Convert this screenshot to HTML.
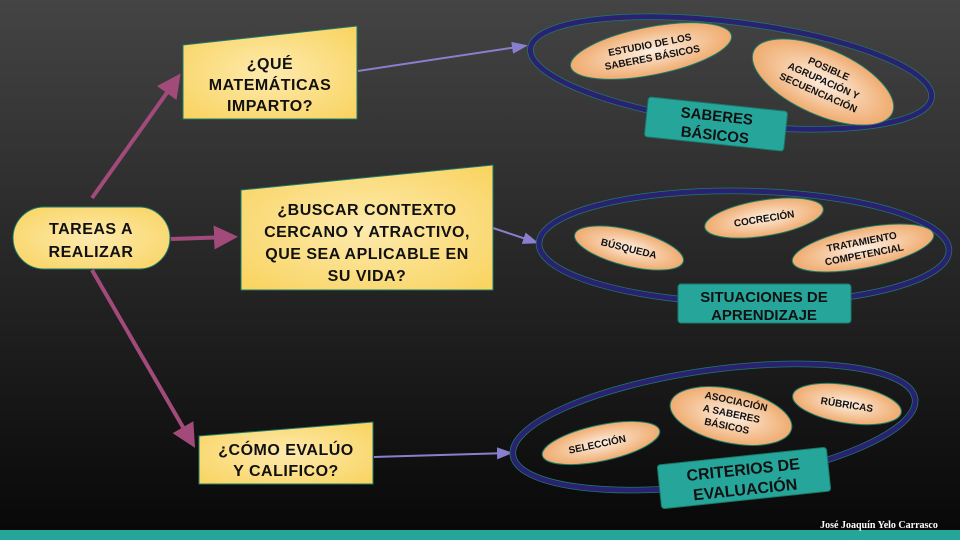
<!DOCTYPE html>
<html><head><meta charset="utf-8"><style>
html,body{margin:0;padding:0;width:960px;height:540px;overflow:hidden;}
text{font-family:"Liberation Sans",sans-serif;font-weight:bold;fill:#111;text-anchor:middle;}
</style></head><body>
<svg width="960" height="540" viewBox="0 0 960 540" xmlns="http://www.w3.org/2000/svg">
<defs>
<linearGradient id="bg" x1="0" y1="0" x2="0" y2="1"><stop offset="0" stop-color="#444"/><stop offset="1" stop-color="#070707"/></linearGradient>
<radialGradient id="yl" cx="0.5" cy="0.5" r="0.7"><stop offset="0" stop-color="#fdeaae"/><stop offset="1" stop-color="#f9d35e"/></radialGradient>
<radialGradient id="or" cx="0.5" cy="0.5" r="0.55"><stop offset="0" stop-color="#fdeee0"/><stop offset="1" stop-color="#eea564"/></radialGradient>
<marker id="am" markerWidth="6" markerHeight="6" refX="4" refY="3" orient="auto" markerUnits="strokeWidth"><path d="M0,0 L6,3 L0,6 z" fill="#a24b7a"/></marker>
<marker id="ap" markerWidth="8" markerHeight="8" refX="6" refY="4" orient="auto" markerUnits="strokeWidth"><path d="M0,1 L8,4 L0,7 z" fill="#8a7fcf"/></marker>
</defs>
<rect width="960" height="540" fill="url(#bg)"/>
<rect x="0" y="530" width="960" height="10" fill="#26a69a"/>
<text x="879" y="528" style="font-family:'Liberation Serif',serif;fill:#fff;font-size:10px">José Joaquín Yelo Carrasco</text>

<g stroke="#a24b7a" stroke-width="4" fill="none">
<line x1="92" y1="198" x2="176" y2="80" marker-end="url(#am)"/>
<line x1="171" y1="239" x2="230" y2="237" marker-end="url(#am)"/>
<line x1="92" y1="270" x2="191" y2="441" marker-end="url(#am)"/>
</g>
<g stroke="#8a7fcf" stroke-width="2" fill="none">
<line x1="358" y1="71" x2="524" y2="46" marker-end="url(#ap)"/>
<line x1="493" y1="228" x2="535" y2="242" marker-end="url(#ap)"/>
<line x1="374" y1="457" x2="509" y2="453" marker-end="url(#ap)"/>
</g>

<g style="letter-spacing:0.5px">
<rect x="13" y="207" width="157" height="62" rx="31" fill="url(#yl)" stroke="#1a7a6a" stroke-width="1"/>
<text x="91" y="234" font-size="16">TAREAS A</text>
<text x="91" y="257" font-size="16">REALIZAR</text>

<polygon points="183,45 357,26 357,119 183,119" fill="url(#yl)" stroke="#1a7a6a" stroke-width="1"/>
<text x="270" y="69" font-size="16">¿QUÉ</text>
<text x="270" y="90" font-size="16">MATEMÁTICAS</text>
<text x="270" y="111" font-size="16">IMPARTO?</text>

<polygon points="241,190 493,165 493,290 241,290" fill="url(#yl)" stroke="#1a7a6a" stroke-width="1"/>
<text x="367" y="215" font-size="16">¿BUSCAR CONTEXTO</text>
<text x="367" y="237" font-size="16">CERCANO Y ATRACTIVO,</text>
<text x="367" y="259" font-size="16">QUE SEA APLICABLE EN</text>
<text x="367" y="281" font-size="16">SU VIDA?</text>

<polygon points="199,436 373,422 373,484 199,484" fill="url(#yl)" stroke="#1a7a6a" stroke-width="1"/>
<text x="286" y="455" font-size="16">¿CÓMO EVALÚO</text>
<text x="286" y="476" font-size="16">Y CALIFICO?</text>
</g>

<g fill="none">
<ellipse cx="731" cy="73" rx="202" ry="51" transform="rotate(7 731 73)" stroke="#1e7a6e" stroke-width="6.5"/>
<ellipse cx="731" cy="73" rx="202" ry="51" transform="rotate(7 731 73)" stroke="#2a2270" stroke-width="5"/>
<ellipse cx="744" cy="247" rx="205" ry="56" transform="rotate(1 744 247)" stroke="#1e7a6e" stroke-width="6.5"/>
<ellipse cx="744" cy="247" rx="205" ry="56" transform="rotate(1 744 247)" stroke="#2a2270" stroke-width="5"/>
<ellipse cx="714" cy="427" rx="203" ry="57" transform="rotate(-8 714 427)" stroke="#1e7a6e" stroke-width="6.5"/>
<ellipse cx="714" cy="427" rx="203" ry="57" transform="rotate(-8 714 427)" stroke="#2a2270" stroke-width="5"/>
</g>

<g transform="rotate(-11 651 51)"><ellipse cx="651" cy="51" rx="82" ry="24" fill="url(#or)" stroke="#1a7a6a"/>
<text x="651" y="48" font-size="10">ESTUDIO DE LOS</text><text x="651" y="61" font-size="10">SABERES BÁSICOS</text></g>
<g transform="rotate(24 823 82)"><ellipse cx="823" cy="82" rx="76" ry="33" fill="url(#or)" stroke="#1a7a6a"/>
<text x="823" y="71" font-size="10">POSIBLE</text><text x="823" y="84" font-size="10">AGRUPACIÓN Y</text><text x="823" y="97" font-size="10">SECUENCIACIÓN</text></g>
<g transform="rotate(6 716 124)"><rect x="646" y="104" width="140" height="40" rx="3" fill="#26a69a" stroke="#1a7a6a"/>
<text x="716" y="121" font-size="15">SABERES</text><text x="716" y="140" font-size="15">BÁSICOS</text></g>

<g transform="rotate(14 629 248)"><ellipse cx="629" cy="248" rx="56" ry="18" fill="url(#or)" stroke="#1a7a6a"/>
<text x="629" y="252" font-size="10">BÚSQUEDA</text></g>
<g transform="rotate(-9 764 218)"><ellipse cx="764" cy="218" rx="60" ry="18" fill="url(#or)" stroke="#1a7a6a"/>
<text x="764" y="222" font-size="10">COCRECIÓN</text></g>
<g transform="rotate(-11 863 248)"><ellipse cx="863" cy="248" rx="72" ry="20" fill="url(#or)" stroke="#1a7a6a"/>
<text x="863" y="245" font-size="10">TRATAMIENTO</text><text x="863" y="258" font-size="10">COMPETENCIAL</text></g>
<rect x="678" y="284" width="173" height="39" rx="3" fill="#26a69a" stroke="#1a7a6a"/>
<text x="764" y="302" font-size="15">SITUACIONES DE</text><text x="764" y="320" font-size="15">APRENDIZAJE</text>

<g transform="rotate(-12 601 443)"><ellipse cx="601" cy="443" rx="60" ry="18" fill="url(#or)" stroke="#1a7a6a"/>
<text x="597" y="447" font-size="10">SELECCIÓN</text></g>
<g transform="rotate(12 731 416)"><ellipse cx="731" cy="416" rx="62" ry="27" fill="url(#or)" stroke="#1a7a6a"/>
<text x="733" y="404" font-size="10">ASOCIACIÓN</text><text x="731" y="417" font-size="10">A SABERES</text><text x="729" y="430" font-size="10">BÁSICOS</text></g>
<g transform="rotate(9 847 404)"><ellipse cx="847" cy="404" rx="55" ry="19" fill="url(#or)" stroke="#1a7a6a"/>
<text x="847" y="408" font-size="10">RÚBRICAS</text></g>
<g transform="rotate(-6 744 478)"><rect x="659" y="456" width="170" height="44" rx="3" fill="#26a69a" stroke="#1a7a6a"/>
<text x="744" y="475" font-size="16">CRITERIOS DE</text><text x="744" y="495" font-size="16">EVALUACIÓN</text></g>
</svg>
</body></html>
